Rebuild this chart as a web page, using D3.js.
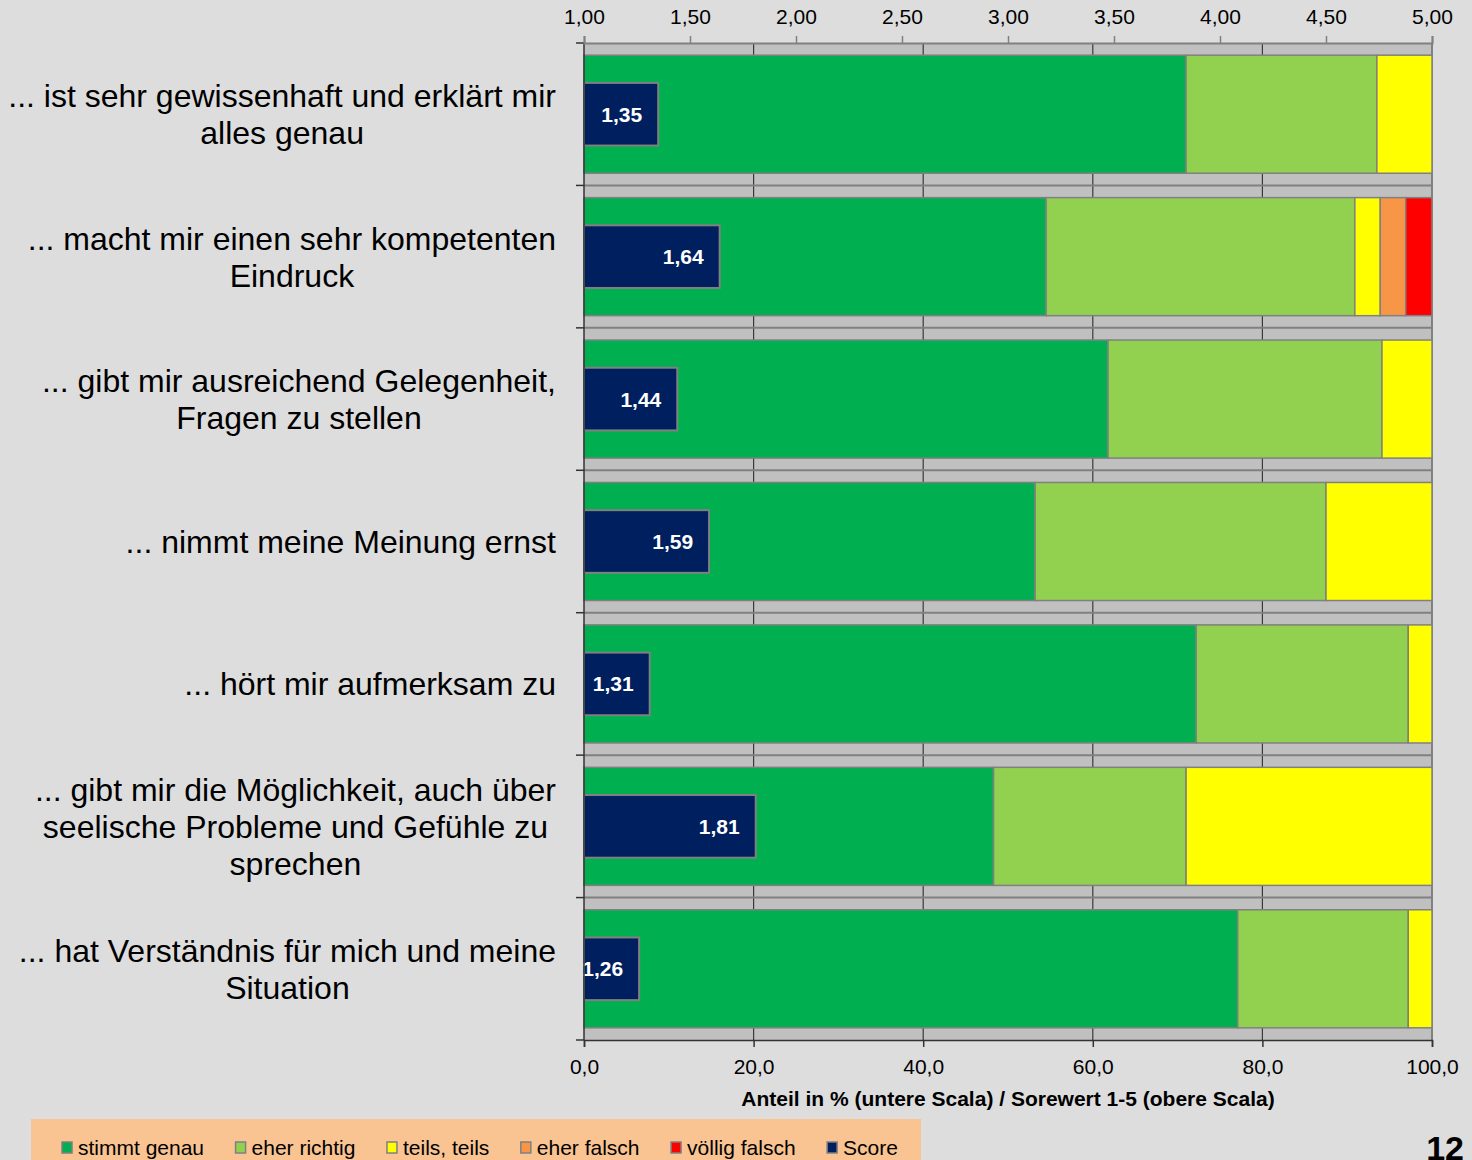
<!DOCTYPE html>
<html>
<head>
<meta charset="utf-8">
<script src="https://cdn.jsdelivr.net/npm/d3@7"></script>
<style>
  body { margin: 0; background: #dddddd; }
  svg { display: block; font-family: Arial, "Liberation Sans", sans-serif; }
</style>
</head>
<body>
<div id="chart"></div>
<script>
const categories = [
  "... ist sehr gewissenhaft und erklärt mir\nalles genau",
  "... macht mir einen sehr kompetenten\nEindruck",
  "... gibt mir ausreichend Gelegenheit,\nFragen zu stellen",
  "... nimmt meine Meinung ernst",
  "... hört mir aufmerksam zu",
  "... gibt mir die Möglichkeit, auch über\nseelische Probleme und Gefühle zu\nsprechen",
  "... hat Verständnis für mich und meine\nSituation"
];
const seriesNames = ["stimmt genau", "eher richtig", "teils, teils", "eher falsch", "völlig falsch"];
const stimmtGenau = [71.0, 54.5, 61.8, 53.2, 72.2, 48.3, 77.1];
const eherRichtig = [22.5, 36.4, 32.3, 34.3, 25.0, 22.7, 20.1];
const teilsTeils = [6.5, 3.0, 5.9, 12.5, 2.8, 29.0, 2.8];
const eherFalsch = [0, 3.0, 0, 0, 0, 0, 0];
const voelligFalsch = [0, 3.1, 0, 0, 0, 0, 0];
const scores = [1.35, 1.64, 1.44, 1.59, 1.31, 1.81, 1.26];
const colors = ["#00b050", "#92d050", "#ffff00", "#f79646", "#ff0000"];
const scoreColor = "#001f5f";
const bottomTicks = [0, 20, 40, 60, 80, 100];
const topTicks = [1, 1.5, 2, 2.5, 3, 3.5, 4, 4.5, 5];

const width = 1472, height = 1160;
const plotL = 584, plotR = 1432, plotT = 43, plotB = 1040;
const fmt = (v, d) => v.toFixed(d).replace(".", ",");

const svg = d3.select("#chart").append("svg")
  .attr("width", width).attr("height", height);

const x = d3.scaleLinear().domain([0, 100]).range([plotL, plotR]);
const xScore = d3.scaleLinear().domain([1, 5]).range([plotL, plotR]);
const y = d3.scaleBand().domain(d3.range(categories.length))
  .range([plotT, plotB]).paddingInner(0.171).paddingOuter(0.0855);

// plot area
svg.append("rect").attr("x", plotL).attr("y", plotT)
  .attr("width", plotR - plotL).attr("height", plotB - plotT)
  .attr("fill", "#c0c0c0");

// vertical gridlines
svg.append("g").selectAll("line").data(bottomTicks.slice(1, -1)).join("line")
  .attr("x1", d => x(d)).attr("x2", d => x(d))
  .attr("y1", plotT).attr("y2", plotB)
  .attr("stroke", "#3a3a3a").attr("stroke-width", 1.2);

// category boundary lines
const bounds = d3.range(1, categories.length).map(i => y(i) - y.step() * y.paddingInner() / 2);
svg.append("g").selectAll("line").data(bounds).join("line")
  .attr("x1", plotL).attr("x2", plotR)
  .attr("y1", d => d).attr("y2", d => d)
  .attr("stroke", "#808080").attr("stroke-width", 2);

// right border of plot area
svg.append("line").attr("x1", plotR).attr("x2", plotR).attr("y1", plotT).attr("y2", plotB)
  .attr("stroke", "#808080").attr("stroke-width", 2);

// stacked bars
const rows = categories.map((c, i) => [stimmtGenau[i], eherRichtig[i], teilsTeils[i], eherFalsch[i], voelligFalsch[i]]);
rows.forEach((vals, i) => {
  let acc = 0;
  const segs = vals.map((v, k) => { const s = { k, x0: acc, x1: acc + v }; acc += v; return s; })
    .filter(s => s.x1 > s.x0);
  svg.append("g").selectAll("rect").data(segs).join("rect")
    .attr("x", d => x(d.x0)).attr("width", d => x(d.x1) - x(d.x0))
    .attr("y", y(i)).attr("height", y.bandwidth())
    .attr("fill", d => colors[d.k])
    .attr("stroke", "#808080").attr("stroke-width", 1.5);
});

// score bars
const sh = y.step() * 0.44;
const scoreG = svg.append("g");
scoreG.selectAll("rect").data(scores).join("rect")
  .attr("x", xScore(1)).attr("width", d => xScore(d) - xScore(1))
  .attr("y", (d, i) => y(i) + y.bandwidth() / 2 - sh / 2).attr("height", sh)
  .attr("fill", scoreColor).attr("stroke", "#808080").attr("stroke-width", 2);
scoreG.selectAll("text").data(scores).join("text")
  .attr("x", d => xScore(d) - 16)
  .attr("y", (d, i) => y(i) + y.bandwidth() / 2)
  .attr("dy", "0.36em").attr("text-anchor", "end")
  .attr("fill", "#fff").attr("font-weight", "bold").attr("font-size", 21)
  .text(d => fmt(d, 2));

// left axis line and ticks
svg.append("line").attr("x1", plotL).attr("x2", plotL).attr("y1", plotT).attr("y2", plotB)
  .attr("stroke", "#333").attr("stroke-width", 1.5);
svg.append("g").selectAll("line").data([plotT, ...bounds, plotB]).join("line")
  .attr("x1", plotL - 8).attr("x2", plotL).attr("y1", d => d).attr("y2", d => d)
  .attr("stroke", "#333").attr("stroke-width", 1.5);

// top axis
const topAxis = svg.append("g").attr("transform", `translate(0,${plotT})`)
  .call(d3.axisTop(xScore).tickValues(topTicks).tickSize(7).tickPadding(12).tickFormat(d => fmt(d, 2)));
topAxis.select(".domain").attr("stroke", "#808080").attr("stroke-width", 2);
topAxis.selectAll(".tick line").attr("stroke", "#808080").attr("stroke-width", 1.5);
topAxis.selectAll("text").attr("font-size", 21).attr("fill", "#000")
  .attr("font-family", "Arial, 'Liberation Sans', sans-serif");

// bottom axis
const botAxis = svg.append("g").attr("transform", `translate(0,${plotB})`)
  .call(d3.axisBottom(x).tickValues(bottomTicks).tickSize(7).tickPadding(12).tickFormat(d => fmt(d, 1)));
botAxis.select(".domain").attr("stroke", "#333").attr("stroke-width", 1.5);
botAxis.selectAll(".tick line").attr("stroke", "#333").attr("stroke-width", 1.5);
botAxis.selectAll("text").attr("font-size", 21).attr("fill", "#000")
  .attr("font-family", "Arial, 'Liberation Sans', sans-serif");

svg.append("text").attr("x", (plotL + plotR) / 2).attr("y", 1106)
  .attr("text-anchor", "middle").attr("font-weight", "bold").attr("font-size", 21)
  .text("Anteil in % (untere Scala) / Sorewert 1-5 (obere Scala)");

// category labels
const lineH = 37;
categories.forEach((c, i) => {
  const lines = c.split("\n");
  const t = svg.append("text").attr("font-size", 32).attr("fill", "#000").attr("text-anchor", "middle");
  const cy = y(i) + y.bandwidth() / 2;
  lines.forEach((ln, j) => {
    t.append("tspan").attr("y", cy + (j - (lines.length - 1) / 2) * lineH).attr("dy", "0.36em").text(ln);
  });
  let maxW = 0;
  t.selectAll("tspan").each(function () { maxW = Math.max(maxW, this.getComputedTextLength()); });
  t.selectAll("tspan").attr("x", 556 - maxW / 2);
});

// legend
const legend = svg.append("g");
legend.append("rect").attr("x", 31).attr("y", 1119).attr("width", 890).attr("height", 50).attr("fill", "#f9c392");
const legItems = seriesNames.map((n, k) => ({ n, c: colors[k] })).concat([{ n: "Score", c: scoreColor }]);
let lx = 62;
legItems.forEach(it => {
  legend.append("rect").attr("x", lx).attr("y", 1142).attr("width", 10).attr("height", 11)
    .attr("fill", it.c).attr("stroke", "#808080").attr("stroke-width", 1.5);
  const t = legend.append("text").attr("x", lx + 16).attr("y", 1155).attr("font-size", 21).text(it.n);
  lx += 16 + t.node().getComputedTextLength() + 31.5;
});

svg.append("text").attr("x", 1464).attr("y", 1160).attr("text-anchor", "end")
  .attr("font-weight", "bold").attr("font-size", 34).text("12");
</script>
</body>
</html>
